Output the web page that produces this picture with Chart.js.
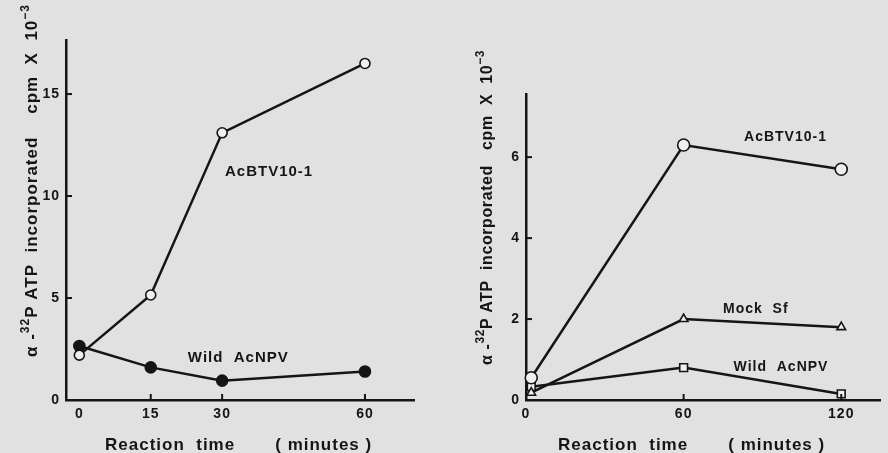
<!DOCTYPE html>
<html><head><meta charset="utf-8">
<script src="https://cdn.jsdelivr.net/npm/chart.js@4.4.1/dist/chart.umd.min.js"></script>
<style>
html,body{margin:0;padding:0;background:#e1e1e1;}
#wrap{position:relative;width:888px;height:453px;overflow:hidden;background:#e1e1e1;}
canvas{position:absolute;top:0;}
</style></head><body>
<div id="wrap"><canvas id="c1" width="440" height="453" style="left:0"></canvas><canvas id="c2" width="448" height="453" style="left:440px"></canvas></div>
<script>
// ---- Left panel data ----
const leftTimes = [0, 15, 30, 60];
const leftAcBTV = [2.2, 5.15, 13.1, 16.5];
const leftWild = [2.65, 1.6, 0.95, 1.4];
const leftXTicks = [0, 15, 30, 60];
const leftYTicks = [0, 5, 10, 15];
// ---- Right panel data ----
const rightTimes = [2, 60, 120];
const rightAcBTV = [0.55, 6.3, 5.7];
const rightMock = [0.18, 2.0, 1.8];
const rightWild = [0.33, 0.8, 0.15];
const rightXTicks = [0, 60, 120];
const rightYTicks = [0, 2, 4, 6];
// ---- Text ----
const xTitle = 'Reaction  time       ( minutes )';
const yTitleLeft = [['α -', false], ['32', true], ['P ATP  incorporated    cpm  X  10', false], ['−3', true]];
const yTitleRight = [['α -', false], ['32', true], ['P ATP  incorporated   cpm  X  10', false], ['−3', true]];

const FAM = '"Liberation Sans", Arial, sans-serif';
const INK = '#151515';

function pts(xs, ys) { return xs.map((t, i) => ({ x: t, y: ys[i] })); }

function drawRich(ctx, segs, size) {
  let cx = 0;
  segs.forEach(([t, sup]) => {
    const fs = sup ? Math.round(size * 0.72) : size;
    ctx.font = `bold ${fs}px ${FAM}`;
    ctx.fillText(t, cx, sup ? -size * 0.5 : 0);
    cx += ctx.measureText(t).width;
  });
}

const decor = {
  id: 'decor',
  beforeDraw(chart) { chart.ctx.letterSpacing = '1px'; },
  afterDraw(chart, args, o) {
    const { ctx, scales: { x, y } } = chart;
    ctx.save();
    ctx.strokeStyle = INK; ctx.lineWidth = 2;
    o.yTicks.forEach(v => { if (v === 0) return; const py = y.getPixelForValue(v);
      ctx.beginPath(); ctx.moveTo(x.left, py); ctx.lineTo(x.left + 6, py); ctx.stroke(); });
    o.xTicks.forEach(v => { if (v === 0) return; const px = x.getPixelForValue(v);
      ctx.beginPath(); ctx.moveTo(px, y.bottom); ctx.lineTo(px, y.bottom - 6); ctx.stroke(); });
    ctx.fillStyle = INK;
    ctx.textAlign = 'left'; ctx.textBaseline = 'middle';
    ctx.letterSpacing = o.labelSpacing;
    ctx.font = `bold ${o.labelSize}px ${FAM}`;
    o.labels.forEach(l => ctx.fillText(l.text, x.getPixelForValue(l.x), y.getPixelForValue(l.y)));
    // x title
    ctx.textBaseline = 'alphabetic';
    ctx.letterSpacing = '1px';
    ctx.font = `bold 17px ${FAM}`;
    ctx.fillText(xTitle, o.xTitlePos[0], o.xTitlePos[1]);
    // y title
    ctx.save();
    ctx.translate(o.yTitlePos[0], o.yTitlePos[1]);
    ctx.rotate(-Math.PI / 2);
    ctx.letterSpacing = o.yTitleSpacing;
    drawRich(ctx, o.yTitle, o.yTitleSize);
    ctx.restore();
    ctx.restore();
  }
};

function axisCommon(ticksArr, fit) {
  return {
    type: 'linear',
    afterBuildTicks: s => { s.ticks = ticksArr.map(v => ({ value: v })); },
    afterFit: fit,
    grid: { display: false, drawTicks: false },
    border: { display: true, color: INK, width: 2.5 },
    ticks: { color: INK, font: { family: FAM, size: 14, weight: 'bold' }, padding: 6, callback: v => String(v) }
  };
}

function lineDs(data, style, radius, fill) {
  return { data, borderColor: INK, borderWidth: 2.5, pointStyle: style, pointRadius: radius,
    pointBorderWidth: 1.6, pointBorderColor: INK, pointBackgroundColor: fill, clip: false, tension: 0 };
}

Chart.register(decor);

new Chart(document.getElementById('c1'), {
  type: 'line',
  data: { datasets: [
    lineDs(pts(leftTimes, leftAcBTV), 'circle', 5, '#f0f0f0'),
    lineDs(pts(leftTimes, leftWild), 'circle', 5.5, INK)
  ] },
  options: {
    responsive: false, animation: false, events: [],
    layout: { padding: { top: 40, right: 26, left: 0, bottom: 0 } },
    plugins: { legend: { display: false }, tooltip: { enabled: false },
      decor: { xTicks: leftXTicks, yTicks: leftYTicks, labelSize: 15, labelSpacing: '1px',
        labels: [{ text: 'AcBTV10-1', x: 30.6, y: 11.2 }, { text: 'Wild  AcNPV', x: 22.8, y: 2.05 }],
        xTitlePos: [105, 450], yTitlePos: [37, 357], yTitle: yTitleLeft, yTitleSize: 17, yTitleSpacing: '1px' } },
    scales: {
      x: Object.assign(axisCommon(leftXTicks, s => { s.height = 53; }), { min: -2.8, max: 70.3 }),
      y: Object.assign(axisCommon(leftYTicks, s => { s.width = 66; }), { min: 0, max: 17.65 })
    }
  }
});

new Chart(document.getElementById('c2'), {
  type: 'line',
  data: { datasets: [
    lineDs(pts(rightTimes, rightAcBTV), 'circle', 6, '#f0f0f0'),
    lineDs(pts(rightTimes, rightMock), 'triangle', 5, '#f0f0f0'),
    lineDs(pts(rightTimes, rightWild), 'rect', 5.5, '#f0f0f0')
  ] },
  options: {
    responsive: false, animation: false, events: [],
    layout: { padding: { top: 94, right: 0, left: 0, bottom: 0 } },
    plugins: { legend: { display: false }, tooltip: { enabled: false },
      decor: { xTicks: rightXTicks, yTicks: rightYTicks, labelSize: 14, labelSpacing: '1px',
        labels: [{ text: 'AcBTV10-1', x: 83, y: 6.49 }, { text: 'Mock  Sf', x: 75, y: 2.25 }, { text: 'Wild  AcNPV', x: 79, y: 0.81 }],
        xTitlePos: [118, 450], yTitlePos: [52, 365], yTitle: yTitleRight, yTitleSize: 16, yTitleSpacing: '0.6px' } },
    scales: {
      x: Object.assign(axisCommon(rightXTicks, s => { s.height = 53; }), { min: 0, max: 134.9 }),
      y: Object.assign(axisCommon(rightYTicks, s => { s.width = 86; }), { min: 0, max: 7.56 })
    }
  }
});
</script>
</body></html>
